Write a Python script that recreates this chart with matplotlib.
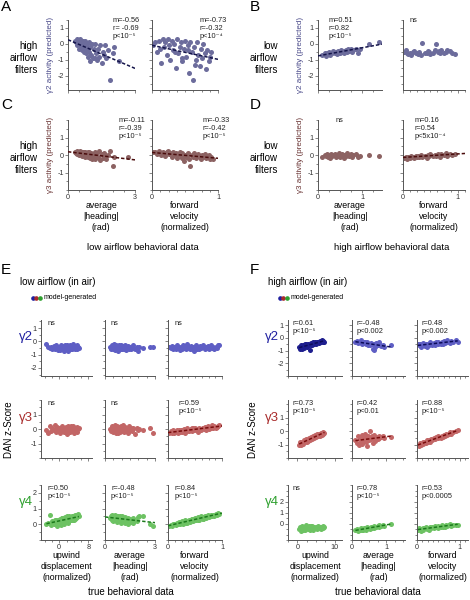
import numpy as np
import matplotlib.pyplot as plt
from matplotlib.lines import Line2D
from matplotlib.ticker import MultipleLocator

plt.rcParams['font.family'] = ['Liberation Sans', 'DejaVu Sans']
plt.rcParams['axes.unicode_minus'] = False

nan = np.nan

# ---- true behavioral data (x values), low airflow trials ----
low_heading = [0.30, 0.35, 0.40, 0.42, 0.45, 0.48, 0.50, 0.52, 0.55, 0.58,
               0.60, 0.62, 0.65, 0.68, 0.70, 0.72, 0.75, 0.78, 0.80, 0.83,
               0.85, 0.88, 0.90, 0.93, 0.95, 0.98, 1.00, 1.05, 1.08, 1.10,
               1.15, 1.20, 1.22, 1.25, 1.30, 1.35, 1.40, 1.45, 1.50, 1.55,
               1.60, 1.65, 1.70, 1.80, 1.90, 2.00, 2.05, 2.30, 2.70, 2.90]
low_velocity = [0.02, 0.05, 0.07, 0.10, 0.12, 0.14, 0.16, 0.18, 0.20, 0.22,
                0.24, 0.26, 0.28, 0.30, 0.32, 0.34, 0.36, 0.38, 0.40, 0.42,
                0.44, 0.46, 0.48, 0.50, 0.52, 0.54, 0.56, 0.58, 0.60, 0.62,
                0.64, 0.66, 0.68, 0.70, 0.72, 0.74, 0.76, 0.78, 0.80, 0.82,
                0.84, 0.86, 0.88, 0.90, 0.92, 0.94, 0.35, 0.45, 0.55, 0.65]
low_upwind = [-3.5, -3.0, -2.5, -2.2, -2.0, -1.5, -1.2, -1.0, -0.8, -0.5,
              -0.3, 0.0, 0.2, 0.4, 0.5, 0.7, 0.9, 1.0, 1.2, 1.4,
              1.5, 1.7, 1.9, 2.0, 2.2, 2.4, 2.5, 2.7, 2.9, 3.0,
              3.2, 3.4, 3.5, 3.7, 3.9, 4.0, 4.2, 4.4, 4.5, 4.7,
              4.9, 5.0, 5.2, 5.4, 0.3, 1.1, 2.1, 3.1, 4.1, 0.8]

# ---- high airflow trials ----
high_heading = [0.10, 0.15, 0.18, 0.20, 0.22, 0.25, 0.28, 0.30, 0.32, 0.35,
                0.38, 0.40, 0.42, 0.45, 0.48, 0.50, 0.52, 0.55, 0.58, 0.60,
                0.63, 0.65, 0.68, 0.70, 0.75, 0.78, 0.80, 0.85, 0.90, 0.95,
                1.15, 1.38]
high_velocity = [0.02, 0.05, 0.08, 0.10, 0.13, 0.15, 0.18, 0.20, 0.23, 0.25,
                 0.28, 0.30, 0.33, 0.35, 0.40, 0.43, 0.45, 0.48, 0.50, 0.55,
                 0.58, 0.60, 0.63, 0.65, 0.68, 0.70, 0.75, 0.78, 0.80, 0.85,
                 0.90, 0.95]
high_upwind = [0.5, 0.8, 1.0, 1.2, 1.5, 1.7, 2.0, 2.2, 2.5, 2.7,
               3.0, 3.2, 3.5, 3.7, 4.0, 4.2, 4.5, 4.7, 5.0, 5.2,
               5.5, 5.8, 6.0, 6.3, 6.5, 6.8, 7.0, 7.3, 1.3, 2.4,
               3.6, 4.8]

# ---- A: gamma2 predicted, high airflow filters ----
a_left_y = [0.2, 0.1, 0.3, -0.1, 0.2, 0.0, -0.3, 0.1, 0.3, -0.2,
            0.0, -0.4, 0.2, -0.1, -0.5, 0.1, -0.3, 0.2, -0.6, -0.2,
            0.0, -0.8, -0.3, 0.1, -0.5, -1.1, -0.2, -0.7, 0.0, -0.9,
            -0.3, -0.9, 0.0, -0.6, -1.0, -0.3, -0.8, -0.1, -1.2, -0.5,
            -0.7, -0.1, -0.9, -0.4, -2.3, -0.6, -0.2, -1.1, nan, nan]
a_right_y = [-0.1, 0.1, -0.5, 0.2, -0.3, -1.2, 0.3, -0.2, 0.1, -0.7,
             0.3, -0.1, -1.0, 0.2, -0.4, 0.0, -1.5, 0.3, -0.6, -0.2,
             0.1, -1.1, -0.3, 0.2, -0.8, -0.1, -1.8, 0.1, -0.5, -2.3,
             -0.2, -1.0, 0.1, -0.7, -1.4, -0.3, -0.9, 0.0, -0.6, -1.6,
             -0.4, -1.1, -0.8, -0.5, nan, nan, -0.5, -0.9, -0.4, -1.3]
# ---- B: gamma2 predicted, low airflow filters ----
b_left_y = [-0.7, -0.6, -0.75, -0.55, -0.65, -0.5, -0.7, -0.6, -0.55, -0.45,
            -0.6, -0.5, -0.65, -0.45, -0.55, -0.6, -0.4, -0.5, -0.45, -0.55,
            -0.4, -0.5, -0.35, -0.45, -0.3, -0.5, -0.4, -0.35, -0.55, -0.3,
            0.0, 0.1]
b_right_y = [-0.5, -0.4, -0.6, -0.65, -0.55, -0.7, -0.5, -0.45, -0.6, -0.55,
             -0.65, -0.5, -0.7, 0.05, -0.55, -0.6, -0.45, -0.5, -0.65, -0.55,
             -0.4, 0.0, -0.5, -0.45, -0.6, -0.4, -0.55, -0.5, -0.4, -0.45,
             -0.55, -0.65]
# ---- C: gamma3 predicted, high airflow filters ----
c_left_y = [0.2, 0.1, 0.25, 0.05, 0.15, 0.2, 0.0, 0.1, 0.25, 0.05,
            0.15, -0.05, 0.2, 0.1, 0.0, 0.15, -0.1, 0.2, 0.05, -0.05,
            0.1, 0.2, -0.1, 0.05, 0.15, -0.15, 0.0, 0.1, -0.2, 0.05,
            -0.05, 0.15, -0.25, 0.0, 0.1, -0.1, 0.25, -0.3, 0.05, -0.15,
            0.1, -0.05, -0.2, 0.0, 0.25, -0.65, -0.1, nan, -0.1, nan]
c_right_y = [0.15, 0.2, 0.05, 0.25, 0.1, 0.0, 0.2, 0.1, -0.05, 0.15,
             0.25, 0.05, 0.1, -0.1, 0.2, 0.0, 0.1, -0.15, 0.05, 0.15,
             -0.05, 0.1, -0.35, 0.0, -0.1, 0.05, -0.2, -0.65, 0.0, -0.1,
             0.1, -0.15, -0.05, 0.05, -0.1, -0.2, 0.0, -0.1, 0.05, -0.15,
             -0.05, 0.0, -0.2, -0.1, -0.25, nan, 0.05, -0.15, 0.1, -0.05]
# ---- D: gamma3 predicted, low airflow filters ----
d_left_y = [-0.1, 0.0, -0.05, 0.05, -0.1, 0.0, -0.15, 0.05, -0.05, 0.0,
            0.05, -0.1, 0.0, -0.05, 0.1, -0.1, 0.0, 0.05, -0.15, 0.0,
            -0.05, 0.1, 0.0, -0.05, 0.05, -0.1, 0.0, 0.05, -0.1, -0.05,
            0.0, -0.05]
d_right_y = [-0.15, -0.1, -0.2, -0.1, -0.15, -0.05, -0.1, -0.15, -0.05, -0.1,
             -0.05, -0.1, 0.0, -0.1, -0.05, -0.15, 0.0, -0.05, 0.05, -0.05,
             0.0, -0.05, 0.05, 0.0, -0.1, 0.05, 0.0, 0.1, -0.05, 0.05,
             0.0, 0.05]

# ---- E: DAN z-score, low airflow ----
e_g2_up = [-0.2, -0.45, -0.5, -0.4, -0.55, -0.35, -0.6, -0.45, -0.3, -0.5,
           -0.65, -0.4, -0.55, -0.3, -0.45, -0.6, -0.35, -0.5, -0.7, -0.4,
           -0.25, -0.55, -0.45, -0.6, -0.35, -0.5, -0.7, -0.4, -0.3, -0.55,
           -0.45, -0.6, -0.35, -0.5, -0.2, -0.45, -0.6, -0.35, -0.5, -0.4,
           -0.55, -0.3, -0.45, -0.5, -0.65, -0.4, -0.3, -0.55, -0.45, -0.5]
e_g2_head = [-0.4, -0.55, -0.3, -0.5, -0.45, -0.6, -0.35, -0.2, -0.5, -0.4,
             -0.65, -0.45, -0.3, -0.55, -0.4, -0.5, -0.7, -0.35, -0.45, -0.6,
             -0.3, -0.5, -0.4, -0.55, -0.25, -0.45, -0.6, -0.35, -0.5, -0.4,
             -0.55, -0.3, -0.45, -0.65, -0.4, -0.5, -0.35, -0.55, -0.45, -0.6,
             -0.4, -0.5, -0.3, -0.55, -0.45, -0.7, -0.4, -0.5, -0.45, -0.45]
e_g2_vel = [-0.45, -0.5, -0.35, -0.55, -0.4, -0.6, -0.3, -0.5, -0.45, -0.65,
            -0.4, -0.55, -0.3, -0.5, -0.45, -0.6, -0.2, -0.4, -0.55, -0.35,
            -0.5, -0.45, -0.7, -0.4, -0.3, -0.55, -0.45, -0.6, -0.35, -0.5,
            -0.25, -0.45, -0.55, -0.4, -0.5, -0.35, -0.6, -0.45, -0.3, -0.5,
            -0.4, -0.55, -0.45, -0.5, -0.3, -0.25, -0.5, -0.6, -0.4, -0.45]
e_g3_up = [-0.1, -0.3, 0.2, -0.15, 0.1, -0.05, 0.25, -0.2, 0.0, 0.15,
           -0.1, 0.05, -0.25, 0.1, 0.0, -0.15, 0.2, -0.05, 0.1, -0.2,
           0.05, -0.1, 0.15, -0.3, 0.0, 0.2, -0.1, 0.05, -0.2, 0.1,
           -0.05, 0.15, -0.15, 0.0, 0.2, -0.25, 0.05, -0.1, 0.1, -0.05,
           0.15, -0.2, 0.0, 0.1, -0.15, 0.05, -0.35, 0.2, -0.1, 0.0]
e_g3_head = [0.0, -0.15, 0.2, -0.05, 0.1, -0.2, 0.15, 0.0, -0.1, 0.25,
             -0.05, 0.1, -0.25, 0.05, 0.2, -0.1, 0.0, -0.3, 0.15, -0.05,
             0.1, -0.2, 0.05, 0.2, -0.1, 0.0, -0.15, 0.3, -0.05, 0.1,
             -0.2, 0.05, 0.15, -0.1, 0.0, -0.25, 0.1, 0.2, -0.05, 0.05,
             -0.15, 0.0, 0.1, -0.35, 0.05, -0.1, 0.0, -0.1, 0.1, -0.3]
e_g3_vel = [-0.3, -0.15, -0.25, -0.1, -0.3, -0.2, -0.05, -0.25, -0.1, -0.2,
            -0.05, -0.2, -0.1, 0.0, -0.25, -0.1, 0.05, -0.15, -0.05, 0.0,
            -0.15, 0.05, -0.05, 0.1, -0.1, 0.0, -0.2, 0.1, 0.0, -0.1,
            0.1, 0.0, 0.15, -0.05, 0.1, 0.2, 0.0, 0.15, 0.05, 0.25,
            0.1, 0.2, 0.05, 0.15, 0.2, 0.25, -0.15, 0.05, -0.05, 0.1]
e_g4_up = [0.0, 0.1, 0.6, -0.05, 0.2, 0.0, 0.3, 0.05, 0.25, -0.1,
           0.3, 0.1, 0.35, -0.05, 0.2, 0.4, 0.15, 0.3, 0.0, 0.35,
           0.45, 0.15, 0.3, 0.5, 0.2, 0.4, 0.1, 0.55, 0.3, 0.45,
           0.25, 0.5, 0.35, 0.55, 0.3, 0.45, 0.6, 0.35, 0.5, 0.4,
           0.6, 0.45, 0.65, 0.5, 0.1, 0.2, 0.45, 0.25, 0.3, 0.4]
e_g4_head = [0.4, 0.55, 0.3, 0.6, 0.45, 0.2, 0.5, 0.35, 0.55, 0.25,
             0.45, 0.6, 0.3, 0.5, 0.15, 0.4, 0.55, 0.25, 0.45, 0.35,
             0.2, 0.5, 0.35, 0.1, 0.45, 0.3, 0.55, 0.2, 0.4, 0.25,
             0.35, 0.1, 0.45, 0.25, 0.3, 0.05, 0.4, 0.2, 0.35, 0.15,
             0.25, 0.4, 0.1, 0.3, 0.2, 0.45, 0.5, 0.5, 0.0, -0.1]
e_g4_vel = [-0.1, -0.05, -0.1, 0.0, 0.05, -0.05, 0.1, 0.0, 0.15, 0.05,
            0.1, 0.2, 0.05, 0.15, 0.25, 0.1, 0.2, 0.3, 0.15, 0.25,
            0.35, 0.2, 0.3, 0.4, 0.25, 0.35, 0.45, 0.3, 0.4, 0.5,
            0.35, 0.45, 0.55, 0.4, 0.5, 0.6, 0.45, 0.55, 0.6, 0.5,
            0.6, 0.55, 0.65, 0.6, 0.7, 0.65, 0.1, 0.35, 0.3, 0.35]

# ---- F: DAN z-score, high airflow ----
f_g2_up = [-0.7, -0.9, -0.6, -0.75, -0.55, -0.8, -0.5, -0.65, -0.55, -0.7,
           -0.45, -0.6, -0.95, -0.4, -0.55, -0.35, -0.5, -0.3, -0.45, -0.35,
           -0.3, -0.4, -0.25, -0.35, -0.2, -0.3, -0.25, -0.3, -0.85, -0.5,
           -0.6, -0.4]
f_g2_head = [-0.3, -0.25, -0.4, -0.3, -0.35, -0.2, -0.45, -0.3, -0.4, -0.35,
             -0.3, -0.5, -0.4, -0.35, -0.55, -0.45, -0.6, -0.4, -0.5, -0.85,
             -0.95, -0.5, -0.7, -0.4, -0.6, -0.35, -0.45, -0.65, -0.55, -0.7,
             -0.6, nan]
f_g2_vel = [-0.5, -0.6, -0.45, -0.7, -0.55, -0.4, -0.65, -0.5, -0.75, -0.45,
            -0.55, -0.35, -0.5, -0.6, -0.4, -0.55, -0.3, -0.45, -0.35, -0.5,
            -0.3, -0.45, -0.25, -0.4, -0.35, -0.2, -0.3, -0.4, -0.25, -0.3,
            -0.2, -0.3]
f_g3_up = [-1.0, -0.85, -1.05, -0.8, -0.95, -0.7, -0.85, -0.6, -0.8, -0.65,
           -0.75, -0.5, -0.65, -0.45, -0.6, -0.35, -0.55, -0.3, -0.45, -0.25,
           -0.4, -0.2, -0.35, -0.15, -0.3, -0.1, -0.25, -0.15, -0.95, -0.7,
           -0.5, -0.4]
f_g3_head = [-0.7, -0.9, -0.4, -1.0, -0.6, -0.8, -0.3, -0.95, -0.5, -0.75,
             -0.2, -0.85, -0.55, -1.1, -0.4, -0.7, 0.0, -0.6, -0.35, -0.9,
             -0.5, -0.3, -0.75, -0.45, -0.6, -0.4, -0.5, -0.45, -0.4, -0.5,
             -0.45, nan]
f_g3_vel = [-1.0, -1.1, -0.9, -1.0, -0.85, -0.95, -0.8, -0.9, -0.7, -0.8,
            -0.65, -0.8, -0.6, -0.7, -0.55, -0.6, -0.45, -0.55, -0.4, -0.5,
            -0.35, -0.45, -0.3, -0.35, -0.2, -0.3, -0.2, -0.1, -0.2, -0.05,
            0.0, 0.05]
f_g4_up = [-0.5, -0.3, -0.7, -0.2, -0.55, -0.35, -0.6, -0.15, -0.45, -0.3,
           -0.5, -0.25, -0.6, -0.4, -0.2, -0.55, -0.35, -0.45, -0.3, -0.5,
           -0.25, -0.45, -0.3, -0.5, -0.35, -0.2, -0.4, -0.3, -0.6, -0.4,
           -0.25, -0.45]
f_g4_head = [-0.6, -0.5, -0.7, -0.55, -0.6, -0.45, -0.6, -0.5, -0.55, -0.45,
             -0.5, -0.4, -0.55, -0.35, -0.45, -0.4, -0.5, -0.3, -0.4, -0.35,
             -0.25, -0.4, -0.3, -0.35, -0.2, -0.3, -0.15, -0.25, -0.1, -0.2,
             -0.05, nan]
f_g4_vel = [-0.6, -0.45, -0.5, -0.65, -0.4, -0.55, -0.45, -0.35, -0.5, -0.4,
            -0.55, -0.35, -0.45, -0.3, -0.4, -0.2, -0.35, -0.45, -0.25, -0.3,
            -0.15, -0.35, -0.2, -0.3, -0.1, -0.25, -0.15, -0.05, -0.2, -0.1,
            -0.15, -0.1]

e_notes = [['ns', 'ns', 'ns'],
           ['ns', 'ns', 'r=0.59\np<10⁻⁵'],
           ['r=0.50\np<10⁻⁵', 'r=-0.48\np<10⁻⁵', 'r=0.84\np<10⁻⁵']]
f_notes = [['r=0.61\np<10⁻⁵', 'r=-0.48\np<0.002', 'r=0.48\np<0.002'],
           ['r=0.73\np<10⁻⁵', 'r=0.42\np<0.01', 'r=0.88\np<10⁻⁵'],
           ['ns', 'r=0.78\np<10⁻⁵', 'r=0.53\np<0.0005']]

# colours
AB_DOT, AB_LINE = '#6c6c9c', '#14144a'
CD_DOT, CD_LINE = '#8c6262', '#4a0c0c'
G2_DOT, G2_DARK, G2_LINE = '#5e5ec4', '#1e1e8e', '#0c0c5a'
G3_DOT, G3_LINE = '#c26666', '#7a0c0c'
G4_DOT, G4_LINE = '#6dc263', '#1b7a1b'
GAMMA_COL = ['#1f1fa0', '#a82a2a', '#2ea02e']

W, H = 470, 600
fig = plt.figure(figsize=(W / 100, H / 100), dpi=100)


def px_axes(x0, y0, x1, y1):
    return fig.add_axes([x0 / W, 1 - y1 / H, (x1 - x0) / W, (y1 - y0) / H])


def ftext(px, py, s, **kw):
    return fig.text(px / W, 1 - py / H, s, **kw)


def panel(box, x, y, xlim, ylim, yticks, xticks, xminor, dot, line=None,
          note='', note_x=0.1, note_y=1.0, span='axis', show_x=False, show_y=True):
    ax = px_axes(*box)
    x = np.asarray(x, float)
    y = np.asarray(y, float)
    ok = ~np.isnan(y)
    ax.scatter(x[ok], y[ok], s=13, color=dot, linewidths=0, zorder=2)
    if line is not None:
        m, b = np.polyfit(x[ok], y[ok], 1)
        xs = np.array(xlim if span == 'axis' else (x[ok].min(), x[ok].max()), float)
        ax.plot(xs, m * xs + b, color=line, lw=1.1, ls=(0, (2.2, 1.3)), zorder=3)
    ax.set_xlim(xlim)
    ax.set_ylim(ylim)
    ax.set_yticks(yticks)
    ax.set_yticklabels([f'{t:g}' for t in yticks] if show_y else [])
    ax.yaxis.set_minor_locator(MultipleLocator(0.5))
    ax.set_xticks(xticks)
    ax.set_xticklabels([f'{t:g}' for t in xticks] if show_x else [])
    ax.xaxis.set_minor_locator(MultipleLocator(xminor))
    for s in ('top', 'right'):
        ax.spines[s].set_visible(False)
    for s in ('left', 'bottom'):
        ax.spines[s].set_color('#555555')
        ax.spines[s].set_linewidth(0.7)
    ax.tick_params(which='both', direction='out', width=0.5, colors='#555555',
                   labelcolor='#333333', labelsize=5.2, pad=1)
    ax.tick_params(which='major', length=2)
    ax.tick_params(which='minor', length=1.3)
    ax.patch.set_alpha(0)
    if note:
        ax.text(note_x, note_y, note, transform=ax.transAxes, ha='left', va='top',
                fontsize=5.3, linespacing=1.15, color='#222222')
    return ax


# ---- panels A-D ----
ab_ylim, ab_yt = (-2.9, 1.5), [-2, -1, 0, 1]
cd_ylim, cd_yt = (-2, 2), [-1, 0, 1]
panel((68, 20, 135, 90), low_heading, a_left_y, (0, 3), ab_ylim, ab_yt, [0, 3], 0.5,
      AB_DOT, AB_LINE, 'm=-0.56\nr= -0.69\np<10⁻⁵', 0.67, 1.04)
panel((152, 20, 218, 90), low_velocity, a_right_y, (0, 1), ab_ylim, ab_yt, [0, 1], 0.125,
      AB_DOT, AB_LINE, 'm=-0.73\nr=-0.32\np<10⁻⁴', 0.72, 1.04, show_y=False)
panel((318, 20, 382, 90), high_heading, b_left_y, (0, 1.45), ab_ylim, ab_yt, [0, 1], 0.25,
      AB_DOT, AB_LINE, 'm=0.51\nr=0.82\np<10⁻⁵', 0.16, 1.04)
panel((403, 20, 465, 90), high_velocity, b_right_y, (0, 1.13), ab_ylim, ab_yt, [0, 1], 0.125,
      AB_DOT, None, 'ns', 0.11, 1.04, show_y=False)
panel((68, 120, 135, 190), low_heading, c_left_y, (0, 3), cd_ylim, cd_yt, [0, 3], 0.5,
      CD_DOT, CD_LINE, 'm=-0.11\nr=-0.39\np<10⁻⁵', 0.76, 1.04, show_x=True)
panel((152, 120, 218, 190), low_velocity, c_right_y, (0, 1), cd_ylim, cd_yt, [0, 1], 0.125,
      CD_DOT, CD_LINE, 'm=-0.33\nr=-0.42\np<10⁻⁵', 0.76, 1.04, show_x=True, show_y=False)
panel((318, 120, 382, 190), high_heading, d_left_y, (0, 1.45), cd_ylim, cd_yt, [0, 1], 0.25,
      CD_DOT, None, 'ns', 0.27, 1.04, show_x=True)
panel((403, 120, 465, 190), high_velocity, d_right_y, (0, 1.13), cd_ylim, cd_yt, [0, 1], 0.125,
      CD_DOT, CD_LINE, 'm=0.16\nr=0.54\np<5x10⁻⁴', 0.19, 1.04, show_x=True, show_y=False)

# ---- panels E and F ----
rows = [(320, 376), (400, 458), (485, 540)]
row_yticks = [[-2, -1, 0, 1], [-1, 0, 1], [0, 1, 2]]
line_cols = [G2_LINE, G3_LINE, G4_LINE]

e_cols = [(41, 92), (105, 155), (168, 222)]
e_x = [low_upwind, low_heading, low_velocity]
e_xlim = [(-5, 9), (0, 3), (0, 1)]
e_xt = [[0, 8], [0, 3], [0, 1]]
e_minor = [2, 0.5, 0.125]
e_ylim = [(-2.6, 1.6), (-2, 2), (-1, 2.5)]
e_y = [[e_g2_up, e_g2_head, e_g2_vel],
       [e_g3_up, e_g3_head, e_g3_vel],
       [e_g4_up, e_g4_head, e_g4_vel]]
e_dots = [[G2_DOT] * 3, [G3_DOT] * 3, [G4_DOT] * 3]

f_cols = [(288, 342), (352, 405), (417, 468)]
f_x = [high_upwind, high_heading, high_velocity]
f_xlim = [(-2.5, 12), (0, 1.55), (0, 1.19)]
f_xt = [[0, 10], [0, 1], [0, 1]]
f_minor = [2.5, 0.25, 0.125]
f_ylim = [(-3, 1.4), (-2, 2.3), (-1.5, 3.5)]
f_y = [[f_g2_up, f_g2_head, f_g2_vel],
       [f_g3_up, f_g3_head, f_g3_vel],
       [f_g4_up, f_g4_head, f_g4_vel]]
f_dots = [[G2_DARK, G2_DOT, G2_DOT], [G3_DOT] * 3, [G4_DOT] * 3]

for r, (y0, y1) in enumerate(rows):
    for c in range(3):
        note = e_notes[r][c]
        nx = 0.2 if (r == 1 and c == 2) else 0.12
        panel((e_cols[c][0], y0, e_cols[c][1], y1), e_x[c], e_y[r][c], e_xlim[c], e_ylim[r],
              row_yticks[r], e_xt[c], e_minor[c], e_dots[r][c],
              None if note == 'ns' else line_cols[r], note, nx, 1.0,
              span='data' if c == 0 else 'axis', show_x=(r == 2), show_y=(c == 0))
        note = f_notes[r][c]
        panel((f_cols[c][0], y0, f_cols[c][1], y1), f_x[c], f_y[r][c], f_xlim[c], f_ylim[r],
              row_yticks[r], f_xt[c], f_minor[c], f_dots[r][c],
              None if note == 'ns' else line_cols[r], note, 0.08, 1.0,
              span='data', show_x=(r == 2), show_y=(c == 0))

# ---- labels ----
for lab, px, py in [('A', 1, 0), ('B', 250, 0), ('C', 1, 98), ('D', 250, 98),
                    ('E', 1, 263), ('F', 250, 263)]:
    ftext(px, py, lab, fontsize=11, va='top', ha='left')

for py in (58, 158):
    ftext(38, py, 'high\nairflow\nfilters', ha='right', va='center', fontsize=7, linespacing=1.25)
    ftext(278, py, 'low\nairflow\nfilters', ha='right', va='center', fontsize=7, linespacing=1.25)

for px in (50, 300):
    ftext(px, 55, 'γ2 activity (predicted)', rotation=90, ha='center', va='center',
          fontsize=5.8, color='#4a4a8a')
    ftext(px, 155, 'γ3 activity (predicted)', rotation=90, ha='center', va='center',
          fontsize=5.8, color='#6a3434')

cd_labels = ['average\n|heading|\n(rad)', 'forward\nvelocity\n(normalized)']
for px, s in zip((101, 185, 350, 434), cd_labels * 2):
    ftext(px, 201, s, ha='center', va='top', fontsize=6.3, linespacing=1.3)
ftext(143, 248, 'low airflow behavioral data', ha='center', va='center', fontsize=6.8)
ftext(392, 248, 'high airflow behavioral data', ha='center', va='center', fontsize=6.8)

ftext(20, 282, 'low airflow (in air)', va='center', fontsize=7)
ftext(268, 282, 'high airflow (in air)', va='center', fontsize=7)
for lx in (33, 280):
    for i, col in enumerate(GAMMA_COL):
        fig.add_artist(Line2D([(lx + 3.4 * i) / W], [1 - 298 / H], marker='o', ms=2.3,
                              color=col, ls='none', transform=fig.transFigure))
    ftext(lx + 11, 298, 'model-generated', va='center', fontsize=5)

for r, gy in enumerate((337, 418, 502)):
    ftext(33, gy, f'γ{r + 2}', ha='right', va='center', fontsize=9.5, color=GAMMA_COL[r])
    ftext(279, gy, f'γ{r + 2}', ha='right', va='center', fontsize=9.5, color=GAMMA_COL[r])
ftext(9, 430, 'DAN z-Score', rotation=90, ha='center', va='center', fontsize=7)
ftext(253, 430, 'DAN z-Score', rotation=90, ha='center', va='center', fontsize=7)

ef_labels = ['upwind\ndisplacement\n(normalized)', 'average\n|heading|\n(rad)',
             'forward\nvelocity\n(normalized)']
for cols in (e_cols, f_cols):
    for (x0, x1), s in zip(cols, ef_labels):
        ftext((x0 + x1) / 2, 551, s, ha='center', va='top', fontsize=6.3, linespacing=1.3)
ftext(131, 592, 'true behavioral data', ha='center', va='center', fontsize=7)
ftext(378, 592, 'true behavioral data', ha='center', va='center', fontsize=7)

fig.savefig('out.png', dpi=100)
